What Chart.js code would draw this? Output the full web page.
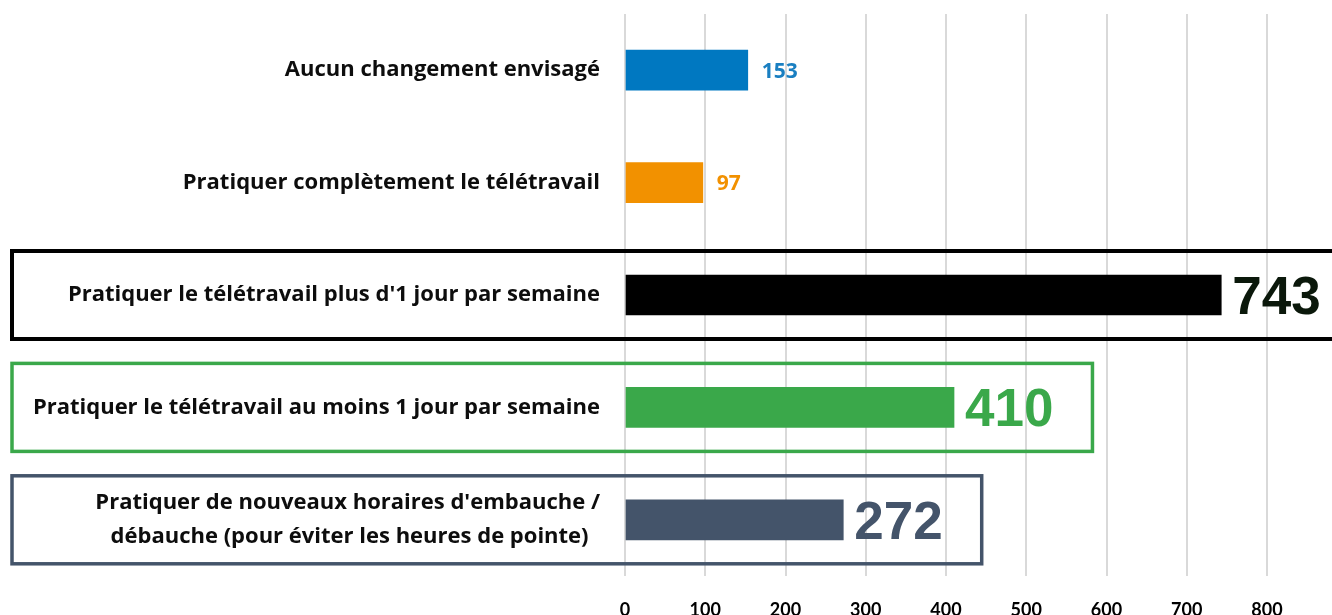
<!DOCTYPE html>
<html lang="fr">
<head>
<meta charset="utf-8">
<script src="https://cdn.jsdelivr.net/npm/chart.js@4.4.1/dist/chart.umd.min.js"></script>
<style>
  html, body { margin: 0; padding: 0; background: #fff; }
  #wrap { width: 1332px; height: 615px; position: relative; }
</style>
</head>
<body>
<div id="wrap"><canvas id="chart"></canvas></div>
<script>
// données du graphique
const categories = [
  'Aucun changement envisagé',
  'Pratiquer complètement le télétravail',
  "Pratiquer le télétravail plus d'1 jour par semaine",
  'Pratiquer le télétravail au moins 1 jour par semaine',
  ["Pratiquer de nouveaux horaires d'embauche /", 'débauche (pour éviter les heures de pointe)  ']
];
const values = [153, 97, 743, 410, 272];
const xTicks = [0, 100, 200, 300, 400, 500, 600, 700, 800];

const barColors = ['#0078c1', '#f29100', '#000000', '#3aa84a', '#44546a'];
const labelColors = ['#1a7fc1', '#f29100', '#0b180b', '#3aa84a', '#44546a'];
const bigLabel = [false, false, true, true, true];
const boxColors = [null, null, '#000000', '#3aa84a', '#44546a'];

// étiquettes de valeur + cadres autour des trois dernières catégories
const annotate = {
  id: 'annotate',
  afterDatasetsDraw(chart) {
    const ctx = chart.ctx;
    const meta = chart.getDatasetMeta(0);
    const yScale = chart.scales.y;
    ctx.save();
    meta.data.forEach((bar, i) => {
      const big = bigLabel[i];
      const size = big ? 53 : 21;
      ctx.font = big ? `bold ${size}px "Liberation Sans", Arial, sans-serif` : `bold ${size}px "Open Sans", sans-serif`;
      ctx.fillStyle = labelColors[i];
      ctx.textAlign = 'left';
      ctx.textBaseline = 'alphabetic';
      const txt = String(values[i]);
      const gap = big ? 11 : 14;
      const tx = bar.x + gap;
      const cy = yScale.getPixelForValue(i);
      ctx.fillText(txt, tx, cy + size * 0.36);

      if (boxColors[i]) {
        const w = ctx.measureText(txt).width;
        const right = tx + w + 39;
        ctx.strokeStyle = boxColors[i];
        ctx.lineWidth = i === 2 ? 4 : 3.5;
        ctx.strokeRect(12, cy - 44, right - 12, 88);
      }
    });
    ctx.restore();
  }
};

new Chart(document.getElementById('chart'), {
  type: 'bar',
  data: {
    labels: categories,
    datasets: [{
      data: values,
      backgroundColor: barColors,
      borderWidth: 0,
      barThickness: 40
    }]
  },
  options: {
    indexAxis: 'y',
    responsive: true,
    maintainAspectRatio: false,
    animation: false,
    layout: { padding: { top: 14, right: 65, left: 0, bottom: 0 } },
    plugins: {
      legend: { display: false },
      tooltip: { enabled: false }
    },
    scales: {
      x: {
        min: 0,
        max: 800,
        afterBuildTicks: scale => { scale.ticks = xTicks.map(v => ({ value: v })); },
        afterFit: scale => {
          scale.height = 39;
          scale.paddingLeft = 0;
          scale.paddingRight = 0;
        },
        border: { display: false },
        grid: { color: '#d9d9d9', lineWidth: 2, drawTicks: false },
        ticks: {
          padding: 23,
          color: '#000',
          font: { family: 'Lato, sans-serif', weight: 'bold', size: 18 }
        }
      },
      y: {
        afterFit: scale => {
          scale.width = 625;
          scale.paddingTop = 0;
          scale.paddingBottom = 0;
        },
        border: { display: false },
        grid: { display: false, drawTicks: false },
        ticks: {
          padding: 25,
          color: '#0d0d0d',
          font: { family: '"Open Sans", sans-serif', weight: 'bold', size: 22, lineHeight: 1.55 }
        }
      }
    }
  },
  plugins: [annotate]
});
</script>
</body>
</html>
